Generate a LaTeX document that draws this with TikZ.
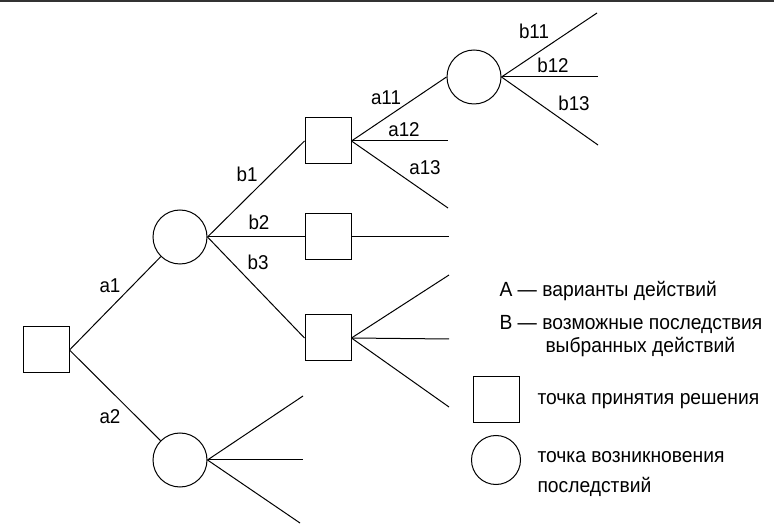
\documentclass[tikz,border=0pt]{standalone}
\usepackage{fontspec}
\setmainfont{Liberation Sans}[FakeStretch=0.94]
\begin{document}
\begin{tikzpicture}[x=1pt,y=-1pt,
  line width=1pt,
  sq/.style={draw, rectangle, minimum size=46pt, inner sep=0pt, line width=1pt},
  cir/.style={draw, circle, minimum size=54pt, inner sep=0pt, line width=1pt},
  lbl/.style={inner sep=0pt, font=\fontsize{20}{24}\selectfont},
  leg/.style={inner sep=0pt, anchor=base west, font=\fontsize{20.5}{24}\selectfont},
  edge/.style={line width=1pt}]
\useasboundingbox (0,0) rectangle (774,526);
\draw[line width=1.6pt, black!80] (0,0.8) -- (774,0.8);

% nodes
\node[sq] (r) at (46,350) {};
\node[cir] (c1) at (180,237) {};
\node[cir] (c2) at (180,460) {};
\node[sq] (s1) at (328,141) {};
\node[sq] (s2) at (328,237) {};
\node[sq] (s3) at (328,338) {};
\node[cir] (c3) at (474,77) {};

% free ends
\coordinate (e1) at (597,13);
\coordinate (e2) at (598,77);
\coordinate (e3) at (598,145);
\coordinate (e4) at (448,141);
\coordinate (e5) at (448,208);
\coordinate (e6) at (449,237);
\coordinate (e7) at (449,275);
\coordinate (e8) at (449,339);
\coordinate (e9) at (449,407);
\coordinate (e10) at (303,396);
\coordinate (e11) at (303,460);
\coordinate (e12) at (300,523);

% connectors
\draw[edge] (r.east) -- (c1);
\draw[edge] (r.east) -- (c2);
\draw[edge] (c1.east) -- (s1.west);
\draw[edge] (c1.east) -- (s2.west);
\draw[edge] (c1.east) -- (s3.west);
\draw[edge] (s1.east) -- (c3.west);
\draw[edge] (s1.east) -- (e4);
\draw[edge] (s1.east) -- (e5);
\draw[edge] (s2.east) -- (e6);
\draw[edge] (s3.east) -- (e7);
\draw[edge] (s3.east) -- (e8);
\draw[edge] (s3.east) -- (e9);
\draw[edge] (c3.east) -- (e1);
\draw[edge] (c3.east) -- (e2);
\draw[edge] (c3.east) -- (e3);
\draw[edge] (c2.east) -- (e10);
\draw[edge] (c2.east) -- (e11);
\draw[edge] (c2.east) -- (e12);

% labels
\node[lbl] (la1) at (110,286) {a1};
\node[lbl] (la2) at (110,417) {a2};
\node[lbl] (lb1) at (247,174) {b1};
\node[lbl] (lb2) at (259,222) {b2};
\node[lbl] (lb3) at (258,262) {b3};
\node[lbl] (la11) at (386,98) {a11};
\node[lbl] (la12) at (404,130) {a12};
\node[lbl] (la13) at (425,168) {a13};
\node[lbl] (lb11) at (534,31) {b11};
\node[lbl] (lb12) at (553,65) {b12};
\node[lbl] (lb13) at (574,103) {b13};

% legend
\node[leg] (t1) at (499,297) {А — варианты действий};
\node[leg] (t2) at (499,330) {В — возможные последствия};
\node[leg] (t3) at (545,353) {выбранных действий};
\node[sq] (ls) at (496,400) {};
\node[leg] (t4) at (537,405) {точка принятия решения};
\node[cir, minimum size=49pt] (lc) at (496,460) {};
\node[leg] (t5) at (537,463) {точка возникновения};
\node[leg] (t6) at (537,493) {последствий};
\end{tikzpicture}
\end{document}
